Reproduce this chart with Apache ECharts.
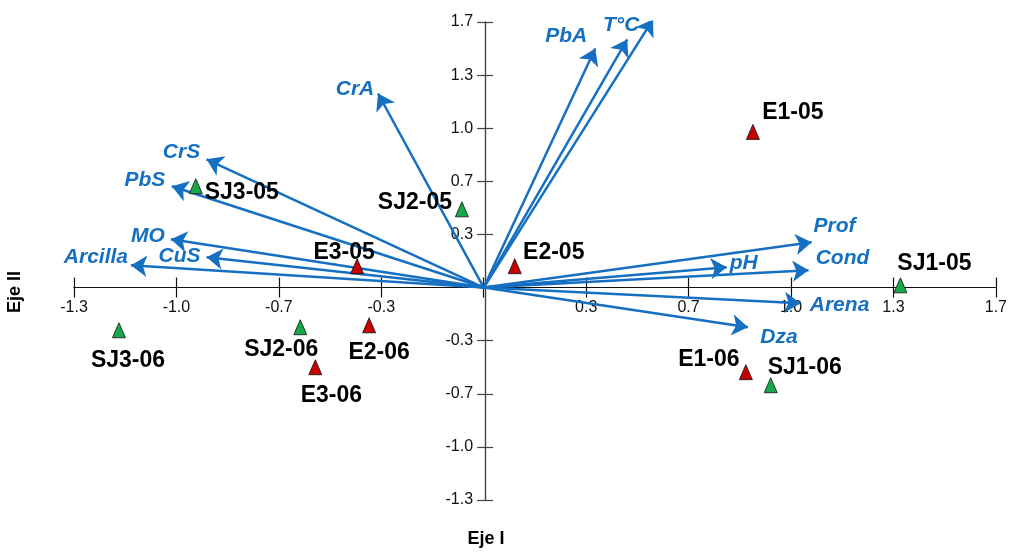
<!DOCTYPE html>
<html>
<head>
<meta charset="utf-8">
<script src="https://cdn.jsdelivr.net/npm/echarts@6/dist/echarts.min.js"></script>
<style>
html,body{margin:0;padding:0;background:#fff;}
#chart{width:1010px;height:552px;}
</style>
</head>
<body>
<div id="chart"></div>
<script>
// Sample scores (Eje I, Eje II)
const sampleNames = ['E1-05','SJ1-05','SJ2-05','SJ3-05','E3-05','E2-05','SJ3-06','SJ2-06','E2-06','E3-06','E1-06','SJ1-06'];
const sampleX = [0.876, 1.356, -0.071, -0.937, -0.412, 0.101, -1.187, -0.597, -0.373, -0.548, 0.853, 0.934];
const sampleY = [0.977, 0.014, 0.491, 0.636, 0.134, 0.134, -0.268, -0.249, -0.237, -0.500, -0.531, -0.613];

// Variable vectors (arrow tips)
const varNames = ['CuA','T°C','PbA','CrA','CrS','PbS','MO','CuS','Arcilla','Prof','Cond','pH','Arena','Dza'];
const varX = [0.551, 0.467, 0.363, -0.344, -0.902, -1.015, -1.018, -0.902, -1.148, 1.067, 1.057, 0.791, 1.031, 0.860];
const varY = [1.683, 1.557, 1.500, 1.218, 0.805, 0.636, 0.303, 0.190, 0.140, 0.284, 0.108, 0.127, -0.098, -0.249];

// Tick labels (axis unit = 1/3)
const xTickLabels = ['-1.3','-1.0','-0.7','-0.3','','0.3','0.7','1.0','1.3','1.7'];
const yTickLabels = ['-1.3','-1.0','-0.7','-0.3','','0.3','0.7','1.0','1.3','1.7'];

const S = 3; // axis drawn in thirds
const BLUE = '#1570c2';
const FONT = 'Liberation Sans, Arial, Helvetica, sans-serif';

// layout
const W = 1010, H = 552;
const G = {left:74, right:11, top:22, bottom:52};
const XMIN = -4, XMAX = 5, YMIN = -4, YMAX = 5;
const plotW = W - G.left - G.right, plotH = H - G.top - G.bottom;
const zeroXpx = G.left + (0 - XMIN) / (XMAX - XMIN) * plotW;
const zeroYpx = G.top + (YMAX - 0) / (YMAX - YMIN) * plotH;
const xAxisOffset = -((H - G.bottom) - zeroYpx);
const yAxisOffset = -(zeroXpx - G.left);

// label offsets (style)
const varLabelOffset = {
  'CuA':[24,-3],'T°C':[-6,-14],'PbA':[-29,-12],'CrA':[-23,-4],'CrS':[-25,-7],'PbS':[-27,-6],
  'MO':[-23,-3],'CuS':[-27,-1],'Arcilla':[-35,-8],'Prof':[23,-16],'Cond':[34,-12],'pH':[17,-4],
  'Arena':[39,2],'Dza':[31,10]
};
const sampleLabelOffset = {
  'E1-05':[40,-19],'SJ1-05':[34,-22],'SJ2-05':[-47,-7],'SJ3-05':[46,6],'E3-05':[-13,-14],'E2-05':[39,-14],
  'SJ3-06':[9,30],'SJ2-06':[-19,22],'E2-06':[10,27],'E3-06':[16,28],'E1-06':[-37,-13],'SJ1-06':[34,-18]
};

const arrowData = varNames.map((n,i)=>({name:n, coords:[[0,0],[varX[i]*S, varY[i]*S]]}));
const varLabelData = varNames.map((n,i)=>({
  name:n, value:[varX[i]*S, varY[i]*S],
  label:{offset:varLabelOffset[n]}
}));
const sampleData = sampleNames.map((n,i)=>{
  const isE = n.startsWith('E');
  return {
    name:n, value:[sampleX[i]*S, sampleY[i]*S],
    itemStyle:{color: isE ? '#c80000' : '#16a84a', borderColor:'#111', borderWidth:0.8, opacity:1},
    label:{offset:sampleLabelOffset[n]}
  };
});

function xAxisCfg(inside, showLabel){
  return {
    type:'value', min:XMIN, max:XMAX, interval:1, position:'bottom', offset:xAxisOffset,
    axisLine:{onZero:false, lineStyle:{color:'#111', width:1.2}},
    axisTick:{show:true, inside:inside, length:10, lineStyle:{color:'#111', width:1.2}},
    axisLabel:{show:showLabel, margin:12, fontFamily:FONT, fontSize:16, color:'#111',
      formatter:(v)=>xTickLabels[Math.round(v)+4]},
    splitLine:{show:false}
  };
}
function yAxisCfg(inside, showLabel){
  return {
    type:'value', min:YMIN, max:YMAX, interval:1, position:'left', offset:yAxisOffset,
    axisLine:{onZero:false, lineStyle:{color:'#444', width:1.2}},
    axisTick:{show:true, inside:inside, length:8, lineStyle:{color:'#444', width:1.2}},
    axisLabel:{show:showLabel, margin:12, fontFamily:FONT, fontSize:16, color:'#111',
      formatter:(v)=>yTickLabels[Math.round(v)+4]},
    splitLine:{show:false}
  };
}

const chart = echarts.init(document.getElementById('chart'), null, {renderer:'canvas'});
chart.setOption({
  animation:false,
  backgroundColor:'#fff',
  grid:{left:G.left, right:G.right, top:G.top, bottom:G.bottom, containLabel:false},
  xAxis:[xAxisCfg(false,true), xAxisCfg(true,false)],
  yAxis:[yAxisCfg(false,true), yAxisCfg(true,false)],
  graphic:[
    {type:'text', x:486, y:539, style:{text:'Eje I', font:'bold 18px '+FONT, fill:'#000', align:'center', verticalAlign:'middle'}},
    {type:'text', x:15, y:292, rotation:Math.PI/2, style:{text:'Eje II', font:'bold 18px '+FONT, fill:'#000', align:'center', verticalAlign:'middle'}}
  ],
  series:[
    {
      type:'lines', coordinateSystem:'cartesian2d', xAxisIndex:0, yAxisIndex:0,
      symbol:['none','arrow'], symbolSize:[12,16],
      lineStyle:{color:BLUE, width:2.5, opacity:1},
      data:arrowData, z:2, silent:true
    },
    {
      type:'scatter', xAxisIndex:0, yAxisIndex:0, symbolSize:0, silent:true, z:3,
      itemStyle:{opacity:1},
      label:{show:true, position:'inside', formatter:'{b}', color:BLUE, opacity:1,
        textBorderWidth:0, textBorderColor:'transparent',
        fontFamily:FONT, fontSize:21, fontWeight:'bold', fontStyle:'italic'},
      data:varLabelData
    },
    {
      type:'scatter', xAxisIndex:0, yAxisIndex:0, symbol:'triangle', symbolSize:[13,15], z:5, silent:true,
      itemStyle:{opacity:1},
      label:{show:true, position:'inside', formatter:'{b}', color:'#000', opacity:1,
        textBorderWidth:0, textBorderColor:'transparent',
        fontFamily:FONT, fontSize:23, fontWeight:'bold'},
      data:sampleData
    }
  ]
});
</script>
</body>
</html>
